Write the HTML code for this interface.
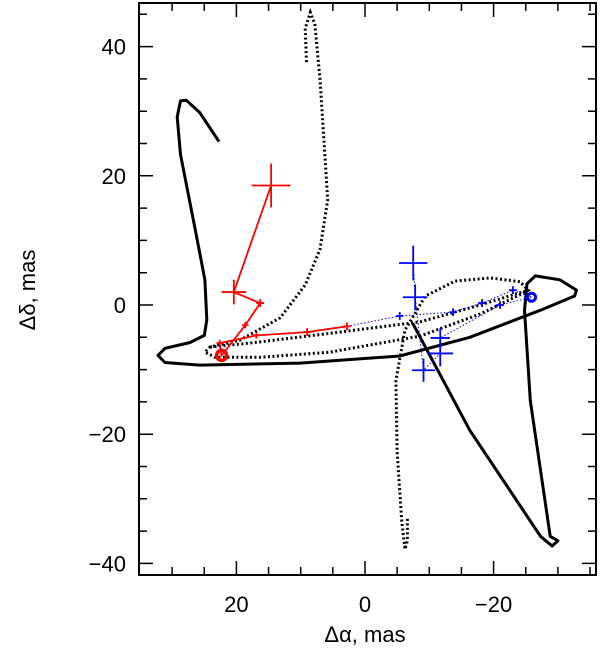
<!DOCTYPE html>
<html><head><meta charset="utf-8"><style>
body{margin:0;background:#fff}
svg{display:block;font-family:"Liberation Sans",sans-serif}
</style></head><body>
<svg id="c" width="600" height="652"></svg>
<script>
const xTicksMajor=[20,0,-20];
const yTicksMajor=[40,20,0,-20,-40];
const solidA=[22.7,25.7,27.8,28.7,29.2,28.7,26.4,24.9,24.6,25.0,27.2,31.1,32.2,31.1,25.7,10.1,-5.4,-16.3,-27.3,-32.6,-32.9,-30.3,-26.5,-25.2,-24.8,-25.7,-28.0,-28.8,-30.0,-29.1,-27.3,-16.3,-7.4];
const solidD=[25.3,29.8,31.7,31.6,29.1,23.3,11.7,3.9,-2.3,-4.7,-5.8,-6.7,-7.8,-8.9,-9.3,-9.0,-7.9,-5.0,-0.8,1.4,2.3,3.9,4.5,3.3,-0.8,-14.8,-30.3,-35.8,-36.5,-37.3,-35.8,-19.4,-2.8];
const dotA=[9.1,9.3,8.5,7.8,7.0,5.8,7.0,9.3,13.2,19.4,24.1,24.9,23.3,16.3,5.5,-8.6,-17.9,-24.1,-25.4,-24.1,-19.5,-14.0,-9.4,-6.2,-4.8,-5.0,-5.7,-6.2,-6.6,-6.6];
const dotD=[37.6,42.8,45.3,43.5,35,16.3,8.6,3.1,-2,-5.4,-6.5,-7.3,-8.1,-8.1,-7.3,-4.8,-1.4,1.6,2.3,3.6,4.2,3.7,1.4,-3.9,-11.7,-22.6,-33.4,-37.8,-36.5,-33.1];
const dot2A=[24.1,17.9,5.5,-8.6,-17.9,-25.4];
const dot2D=[-6.5,-5.9,-4.4,-2.6,0,2.3];
const redA=[14.6,20.4,16.3,18.6,22.3,22.6,16.9,9.0,2.8];
const redD=[18.5,2.0,0.3,-3.1,-7.8,-5.9,-4.7,-4.2,-3.3];
const redEx=[3.0,1.9,0.6,0.5,0,0.5,0.5,0.6,0.6];
const redEy=[3.4,1.9,0.6,0.5,0,0.5,0.5,0.6,0.6];
const blueA=[2.8,-5.4,-13.7,-18.2,-23.0,-25.9];
const blueD=[-3.3,-1.7,-1.1,0.3,2.3,1.2];
const blue2A=[-25.9,-21.0,-11.7,-11.7,-9.1,-7.8,-7.5];
const blue2D=[1.2,0,-5.1,-7.5,-10.1,1.2,6.5];
const blueEx=[0,0.6,0.6,0.6,0.6,0,0.6,1.5,2.0,1.8,1.9,2.2];
const blueEy=[0,0.6,0.6,0.6,0.6,0,0.6,1.5,2.0,1.8,2.0,2.7];
const blueMA=[2.8,-5.4,-13.7,-18.2,-23.0,-25.9,-21.0,-11.7,-11.7,-9.1,-7.8,-7.5];
const blueMD=[-3.3,-1.7,-1.1,0.3,2.3,1.2,0,-5.1,-7.5,-10.1,1.2,6.5];

const X0=139,X1=596,Y0=3,Y1=575;
const sx=a=>365-6.43*a;
const sy=d=>305-6.46*d;
const svg=document.getElementById('c');
const NS='http://www.w3.org/2000/svg';
function mk(tag,at,parent){const e=document.createElementNS(NS,tag);for(const k in at)e.setAttribute(k,at[k]);(parent||svg).appendChild(e);return e;}
function pts(A,D){return A.map((a,i)=>sx(a).toFixed(1)+','+sy(D[i]).toFixed(1)).join(' ');}

let frame=mk('rect',{x:X0,y:Y0,width:X1-X0,height:Y1-Y0,fill:'none',stroke:'#000','stroke-width':2});



for(let a=-35;a<=35;a+=5){const x=sx(a);if(x<X0+1||x>X1-1)continue;const L=(a%20===0)?14:8;
 let t=mk('path',{d:`M${x},${Y1}v${-L}M${x},${Y0}v${L}`,stroke:'#000','stroke-width':1.5});
 
 }
for(let d=-40;d<=45;d+=5){const y=sy(d);if(y<Y0+1||y>Y1-1)continue;const L=(d%20===0)?14:8;
 let t=mk('path',{d:`M${X0},${y}h${L}M${X1},${y}h${-L}`,stroke:'#000','stroke-width':1.5});
 
 }
xTicksMajor.forEach(v=>{let t=mk('text',{x:sx(v),y:612,'text-anchor':'middle','font-size':22});t.textContent=v<0?'\u2212'+(-v):String(v);
 
 });
yTicksMajor.forEach(v=>{let t=mk('text',{x:126,y:sy(v)+8,'text-anchor':'end','font-size':22});t.textContent=v<0?'\u2212'+(-v):String(v);
 
 });
let xl=mk('text',{x:365,y:642,'text-anchor':'middle','font-size':22});xl.textContent='\u0394\u03b1, mas';


let yl=mk('text',{x:0,y:0,'text-anchor':'middle','font-size':22,transform:'translate(35,290) rotate(-90)'});yl.textContent='\u0394\u03b4, mas';



let s=mk('polyline',{points:pts(solidA,solidD),fill:'none',stroke:'#000','stroke-width':3,'stroke-linejoin':'round'});


let d1=mk('polyline',{points:pts(dotA,dotD),fill:'none',stroke:'#000','stroke-width':3,'stroke-dasharray':'2 2.5'});


let d2=mk('polyline',{points:pts(dot2A,dot2D),fill:'none',stroke:'#000','stroke-width':3,'stroke-dasharray':'2 2.5'});



let b1=mk('polyline',{points:pts(blueA,blueD),fill:'none',stroke:'#00f','stroke-width':1,'stroke-dasharray':'1.5 2'});


let b2=mk('polyline',{points:pts(blue2A,blue2D),fill:'none',stroke:'#00f','stroke-width':1,'stroke-dasharray':'1.5 2'});


blueMA.forEach((a,i)=>{const x=sx(a),y=sy(blueMD[i]);const ex=blueEx[i]*6.43,ey=blueEy[i]*6.46;if(!ex)return;
 let e=mk('path',{d:`M${x-ex},${y}h${2*ex}M${x},${y-ey}v${2*ey}`,stroke:'#00f','stroke-width':1.8});
 
 });
let bc=mk('circle',{cx:sx(-25.9),cy:sy(1.2),r:4,fill:'none',stroke:'#00f','stroke-width':3});



let r=mk('polyline',{points:pts(redA,redD),fill:'none',stroke:'#f00','stroke-width':1.8});


redA.forEach((a,i)=>{const x=sx(a),y=sy(redD[i]);const ex=redEx[i]*6.43,ey=redEy[i]*6.46;if(!ex)return;
 let e=mk('path',{d:`M${x-ex},${y}h${2*ex}M${x},${y-ey}v${2*ey}`,stroke:'#f00','stroke-width':1.8});
 
 });
let rc=mk('circle',{cx:sx(22.3),cy:sy(-7.8),r:5,fill:'none',stroke:'#f00','stroke-width':3.5});


</script>
</body></html>
